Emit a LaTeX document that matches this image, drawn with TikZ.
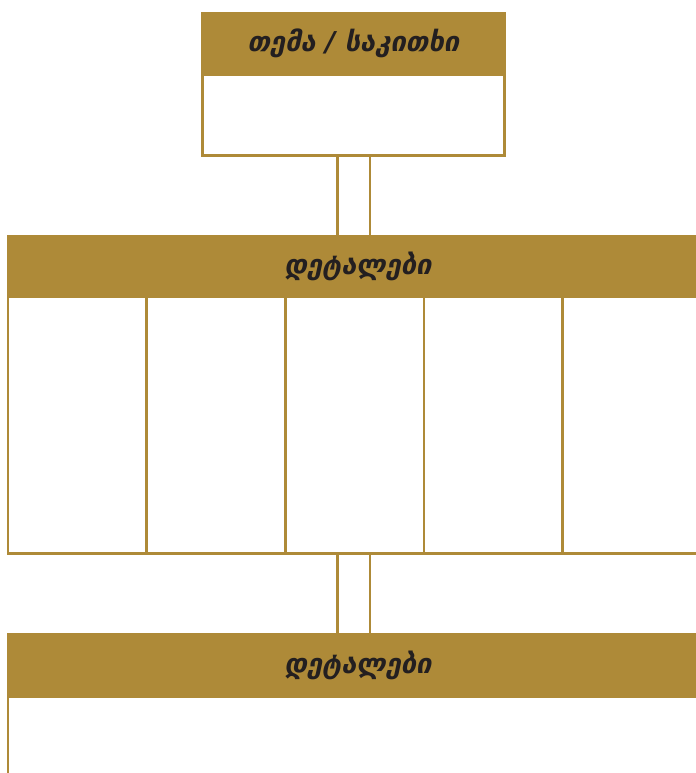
\documentclass[tikz,border=0pt]{standalone}
\usepackage{fontspec}
\newfontfamily\geo{DejaVu Sans}
\usetikzlibrary{calc}
\definecolor{gold}{HTML}{AE8A38}
\definecolor{ink}{HTML}{231F20}
\begin{document}
\begin{tikzpicture}[x=0.75pt,y=-0.75pt,
  head/.style={fill=gold, draw=none, inner sep=0pt, outer sep=0pt, anchor=north west,
    text=ink, font=\geo\bfseries\itshape\fontsize{20.5}{22}\selectfont},
  cell/.style={draw=gold, line width=1.875pt, inner sep=0pt, outer sep=0pt, anchor=north west},
  link/.style={draw=gold, line width=1.875pt}]
\useasboundingbox (0,0) rectangle (695,773);

% topic box
\node[cell, minimum width=226.5pt, minimum height=60.375pt] (topbody) at (202.5,75) {};
\node[head, minimum width=228.75pt, minimum height=47.25pt] (tophead) at (201,12) {თემა / საკითხი};

% details row with five columns
\node[head, minimum width=526.5pt, minimum height=46.875pt] (midhead) at (7,235) {დეტალები};
\foreach \i/\x in {1/8, 2/146.67, 3/285.33, 4/424, 5/562.67}
  \node[cell, minimum width=104pt, minimum height=192.375pt] (cell\i) at (\x,297) {};

% bottom details block
\node[cell, minimum width=520pt, minimum height=75pt] (botbody) at (8,697) {};
\node[head, minimum width=526.5pt, minimum height=48pt] (bothead) at (7,633) {დეტალები};

% double connectors
\coordinate (l1) at ($(topbody.south)+(-16,0)$);
\coordinate (l2) at ($(topbody.south)+(16.5,0)$);
\draw[link] (l1) -- (l1 |- midhead.north);
\draw[link] (l2) -- (l2 |- midhead.north);
\draw[link] (l1 |- cell3.south) -- (l1 |- bothead.north);
\draw[link] (l2 |- cell3.south) -- (l2 |- bothead.north);
\end{tikzpicture}
\end{document}
